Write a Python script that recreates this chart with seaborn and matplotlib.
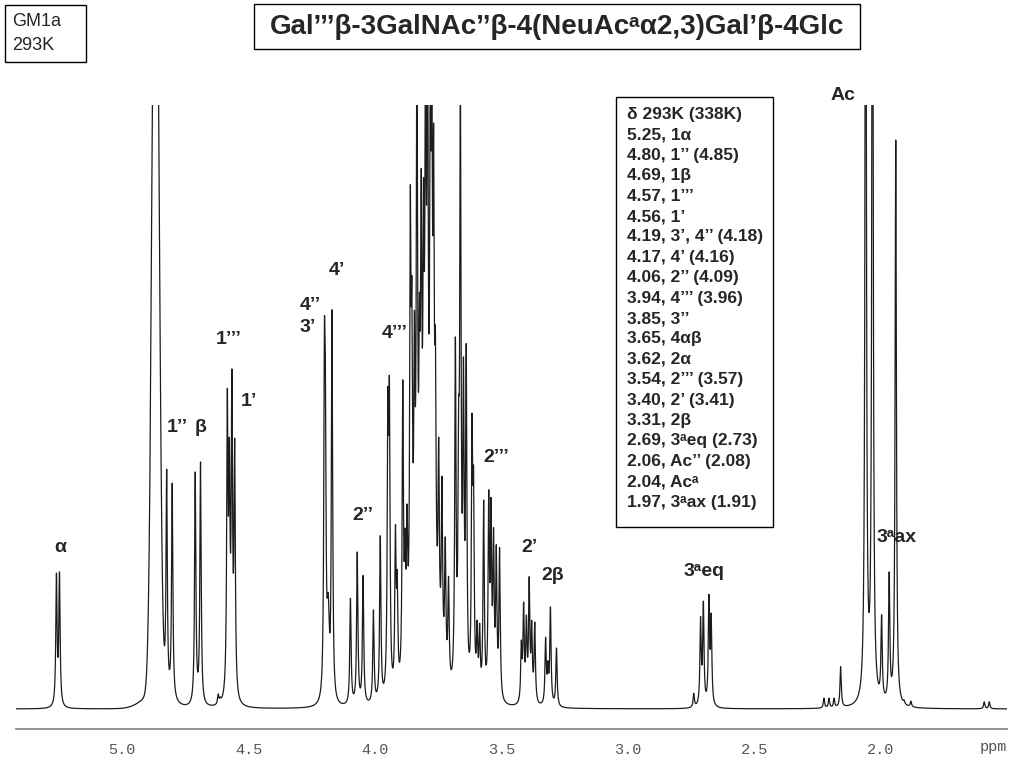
import numpy as np
import pandas as pd
import matplotlib
matplotlib.use("Agg")
import matplotlib.pyplot as plt
import seaborn as sns
from matplotlib.patches import Rectangle
from matplotlib.ticker import MultipleLocator, FixedLocator

# ---------------- data ----------------
# narrow resonance lines: chemical shift (ppm) and apparent peak height (% of plot height)
line_ppm = [5.260, 5.248,
            4.824, 4.802, 4.711, 4.690, 4.620, 4.612,
            4.584, 4.576, 4.566, 4.555,
            4.200, 4.196, 4.170,
            4.097, 4.070, 4.047, 4.006, 3.979, 3.949, 3.943, 3.919, 3.912, 3.890,
            3.881, 3.873, 3.860, 3.854, 3.844, 3.834, 3.824, 3.817, 3.808, 3.800,
            3.792, 3.781, 3.775, 3.768, 3.761, 3.748, 3.735, 3.722, 3.709,
            3.682, 3.669, 3.662, 3.650, 3.639, 3.616, 3.610, 3.596, 3.586,
            3.570, 3.550, 3.541, 3.531, 3.520, 3.507,
            3.421, 3.412, 3.401, 3.390, 3.380, 3.368,
            3.325, 3.316, 3.306, 3.282,
            2.739, 2.712, 2.701, 2.679, 2.670,
            2.224, 2.204, 2.184, 2.158,
            2.059, 2.032,
            1.996, 1.966, 1.940,
            1.907, 1.880, 1.590, 1.570]
line_height = [22.5, 22.7,
               39.7, 37.4, 39.4, 40.9, 2.5, 2.0,
               53.1, 45.0, 56.3, 44.9,
               64.1, 57.0, 66.1,
               18.4, 26.0, 22.2, 16.4, 28.8, 53.1, 55.0, 30.5, 23.0, 54.5,
               30.0, 34.0, 86.8, 71.4, 66.0, 115.0, 69.0, 89.7, 88.0, 115.0,
               120.0, 110.0, 105.0, 97.0, 63.0, 45.0, 38.6, 28.5, 22.0,
               61.6, 51.0, 108.0, 58.3, 60.6, 49.0, 40.0, 14.7, 14.2,
               34.6, 36.3, 35.1, 30.1, 27.2, 26.8,
               11.4, 17.7, 15.6, 21.9, 14.7, 14.4,
               11.9, 8.0, 16.9, 10.1,
               2.6, 15.3, 17.9, 19.0, 15.9,
               1.8, 1.8, 1.8, 7.0,
               170.0, 170.0,
               15.6, 22.7, 94.2,
               1.5, 1.3, 1.2, 1.2]

# broad components (HDO and unresolved envelopes): centre, height, gaussian sigma (ppm)
hump_ppm = [4.868, 4.868, 4.185, 3.800]
hump_height = [150.0, 2.5, 12.0, 15.0]
hump_sigma = [0.0132, 0.05, 0.004, 0.04]

tick_values = [5.0, 4.5, 4.0, 3.5, 3.0, 2.5, 2.0, 1.5]
tick_labels = ["5.0", "4.5", "4.0", "3.5", "3.0", "2.5", "2.0", ""]

title_text = "Gal\u2019\u2019\u2019\u03b2-3GalNAc\u2019\u2019\u03b2-4(NeuAc\u1d43\u03b12,3)Gal\u2019\u03b2-4Glc"
sample_text = ["GM1a", "293K"]
shift_table = ["\u03b4 293K (338K)",
               "5.25, 1\u03b1",
               "4.80, 1\u2019\u2019 (4.85)",
               "4.69, 1\u03b2",
               "4.57, 1\u2019\u2019\u2019",
               "4.56, 1\u2019",
               "4.19, 3\u2019, 4\u2019\u2019 (4.18)",
               "4.17, 4\u2019 (4.16)",
               "4.06, 2\u2019\u2019 (4.09)",
               "3.94, 4\u2019\u2019\u2019 (3.96)",
               "3.85, 3\u2019\u2019",
               "3.65, 4\u03b1\u03b2",
               "3.62, 2\u03b1",
               "3.54, 2\u2019\u2019\u2019 (3.57)",
               "3.40, 2\u2019 (3.41)",
               "3.31, 2\u03b2",
               "2.69, 3\u1d43eq (2.73)",
               "2.06, Ac\u2019\u2019 (2.08)",
               "2.04, Ac\u1d43",
               "1.97, 3\u1d43ax (1.91)"]

# ---------------- spectrum from the line list ----------------
HWHM = 0.003
grid = np.arange(1.5, 5.4201, 0.0004)
lp = np.array(line_ppm)
lh = np.array(line_height)


def lorentz(x, c):
    return 1.0 / (1.0 + ((x - c) / HWHM) ** 2)


def humps(x):
    out = np.zeros_like(x, dtype=float)
    for c, h, s in zip(hump_ppm, hump_height, hump_sigma):
        out += h * np.exp(-0.5 * ((x - c) / s) ** 2)
    return out


# amplitudes such that the summed trace reaches the read heights at the line centres
M = lorentz(lp[:, None], lp[None, :])
base = humps(lp)
amp = lh.copy()
for _ in range(200):
    y_at = M @ amp + base
    amp = amp * lh / y_at

intensity = humps(grid) + lorentz(grid[:, None], lp[None, :]) @ amp
df = pd.DataFrame({"ppm": grid, "intensity": intensity})

# ---------------- figure ----------------
sns.set_style("white")
plt.rcParams["font.family"] = ["Liberation Sans", "DejaVu Sans"]

W, H = 1024, 768
fig = plt.figure(figsize=(W / 100, H / 100), dpi=100)
ax = fig.add_axes([16 / W, 1 - 729 / H, (1007 - 16) / W, (729 - 105) / H])

sns.lineplot(data=df, x="ppm", y="intensity", ax=ax, color="#1c1c1c",
             linewidth=0.9, estimator=None)

ax.set_xlim(5.42, 1.5)
ax.set_ylim(-3.31, 100)
ax.set_xlabel("")
ax.set_ylabel("")
ax.set_yticks([])
for s in ["left", "right", "top"]:
    ax.spines[s].set_visible(False)
ax.spines["bottom"].set_color("#8a8a8a")
ax.spines["bottom"].set_linewidth(1.3)
ax.xaxis.set_major_locator(FixedLocator(tick_values))
ax.set_xticklabels(tick_labels)
ax.xaxis.set_minor_locator(MultipleLocator(0.1))
ax.tick_params(axis="x", which="major", direction="out", length=6, width=1,
               color="#8a8a8a", labelcolor="#555555", labelsize=11, pad=4)
ax.tick_params(axis="x", which="minor", direction="out", length=3, width=1,
               color="#8a8a8a")
for t in ax.get_xticklabels():
    t.set_family("Liberation Mono")


def px(x, y):
    return x / W, 1 - y / H


fig.text(*px(1007, 747), "ppm", ha="right", va="center", fontsize=11,
         color="#555555", family="Liberation Mono")


def label(txt, x, y, size=14):
    fig.text(*px(x, y), txt, ha="center", va="center", fontsize=size,
             fontweight="bold", family=["Liberation Sans", "DejaVu Sans"])


label("\u03b1", 60, 548)
label("1\u2019\u2019", 177, 427)
label("\u03b2", 201, 427)
label("1\u2019\u2019\u2019", 229, 340)
label("1\u2019", 249, 402)
label("4\u2019\u2019", 310, 305)
label("3\u2019", 308, 328)
label("4\u2019", 337, 271)
label("2\u2019\u2019", 363, 516)
label("4\u2019\u2019\u2019", 395, 334)
label("2\u2019\u2019\u2019", 496, 457)
label("2\u2019", 530, 548)
label("2\u03b2", 553, 576)
label("3\u1d43eq", 704, 572)
label("Ac", 843, 95)
label("3\u1d43ax", 897, 538)


def box(x0, y0, x1, y1):
    fig.add_artist(Rectangle((x0 / W, 1 - y1 / H), (x1 - x0) / W, (y1 - y0) / H,
                             transform=fig.transFigure, fill=True, fc="white",
                             ec="black", lw=1.0, zorder=1))


box(254, 4, 860, 49)
fig.text(*px(557, 27), title_text, ha="center", va="center", fontsize=20,
         fontweight="bold", family=["Liberation Sans", "DejaVu Sans"], zorder=2)

box(5, 5, 86, 62)
fig.text(*px(12, 21), sample_text[0], ha="left", va="center", fontsize=13, zorder=2)
fig.text(*px(12, 46), sample_text[1], ha="left", va="center", fontsize=13, zorder=2)

box(616, 97, 773, 527)
for i, row in enumerate(shift_table):
    fig.text(*px(627, 114.5 + 20.4 * i), row, ha="left", va="center",
             fontsize=12.5, fontweight="bold",
             family=["Liberation Sans", "DejaVu Sans"], zorder=2)

fig.savefig("out.png", dpi=100)
